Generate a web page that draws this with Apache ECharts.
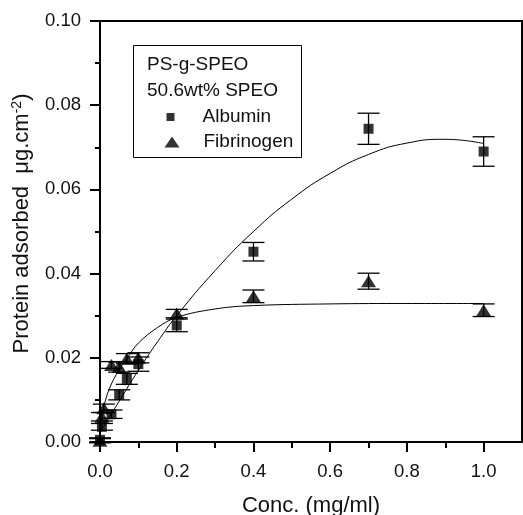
<!DOCTYPE html>
<html>
<head>
<meta charset="utf-8">
<script src="https://cdn.jsdelivr.net/npm/echarts@6/dist/echarts.min.js"></script>
<style>
html,body{margin:0;padding:0;background:#fff;}
#chart{width:523px;height:515px;}
</style>
</head>
<body>
<div id="chart"></div>
<script>
// ---- data ----
const albuminX   = [0, 0.005, 0.03, 0.05, 0.07, 0.1, 0.2, 0.4, 0.7, 1.0];
const albuminY   = [0.0005, 0.0036, 0.0066, 0.0112, 0.0150, 0.0185, 0.0277, 0.0452, 0.0744, 0.0690];
const albuminErr = [0.0005, 0.0008, 0.0010, 0.0012, 0.0013, 0.0017, 0.0015, 0.0022, 0.0037, 0.0035];

const fibX   = [0, 0.005, 0.01, 0.03, 0.05, 0.07, 0.1, 0.2, 0.4, 0.7, 1.0];
const fibY   = [0.0003, 0.0060, 0.0080, 0.0183, 0.0178, 0.0198, 0.0200, 0.0305, 0.0346, 0.0382, 0.0313];
const fibErr = [0.0005, 0.0010, 0.0010, 0.0008, 0.0012, 0.0012, 0.0012, 0.0010, 0.0015, 0.0019, 0.0015];

// fitted curves
const albuminFitX = [0, 0.05, 0.1, 0.15, 0.2, 0.3, 0.4, 0.5, 0.6, 0.7, 0.8, 0.9, 1.0];
const albuminFitY = [0.0022, 0.0097, 0.0170, 0.0238, 0.0300, 0.0407, 0.0500, 0.0577, 0.0638, 0.0683, 0.0710, 0.0719, 0.0709];
const fibFitX = [0, 0.01, 0.025, 0.05, 0.075, 0.1, 0.15, 0.2, 0.3, 0.4, 0.6, 0.8, 1.0];
const fibFitY = [0.0050, 0.0085, 0.0128, 0.0172, 0.0205, 0.0235, 0.0272, 0.0296, 0.0316, 0.0324, 0.0328, 0.0329, 0.0329];

const xMajorTicks = [0, 0.2, 0.4, 0.6, 0.8, 1.0];
const xMinorTicks = [0.1, 0.3, 0.5, 0.7, 0.9];
const legendTitle = 'PS-g-SPEO\n50.6wt% SPEO';

// ---- chart ----
const FONT = 'Liberation Sans, Arial, sans-serif';
const zip = (xs, ys) => xs.map((x, i) => [x, ys[i]]);
const zip3 = (xs, ys, es) => xs.map((x, i) => [x, ys[i], es[i]]);

function errorBars(name, data) {
  return {
    type: 'custom', name: name, data: data, z: 3, clip: false, silent: true,
    renderItem: function (params, api) {
      const x = api.value(0), y = api.value(1), e = api.value(2);
      const hi = api.coord([x, y + e]);
      const lo = api.coord([x, y - e]);
      const hw = 11;
      const style = { stroke: '#000', lineWidth: 1.3 };
      return {
        type: 'group',
        children: [
          { type: 'line', shape: { x1: hi[0], y1: hi[1], x2: lo[0], y2: lo[1] }, style: style },
          { type: 'line', shape: { x1: hi[0] - hw, y1: hi[1], x2: hi[0] + hw, y2: hi[1] }, style: style },
          { type: 'line', shape: { x1: lo[0] - hw, y1: lo[1], x2: lo[0] + hw, y2: lo[1] }, style: style }
        ]
      };
    }
  };
}

const chart = echarts.init(document.getElementById('chart'), null, { renderer: 'canvas' });
chart.setOption({
  backgroundColor: '#fff',
  animation: false,
  textStyle: { fontFamily: FONT },
  grid: {
    left: 100, top: 21, width: 422, height: 421, containLabel: false, outerBoundsMode: 'none',
    show: true, borderColor: '#000', borderWidth: 2, backgroundColor: 'transparent'
  },
  title: {
    text: legendTitle, left: 147, top: 52, padding: 0,
    textStyle: { fontFamily: FONT, fontSize: 19, fontWeight: 'normal', color: '#111', lineHeight: 26 }
  },
  legend: [
    {
      data: [{ name: 'Albumin', icon: 'rect' }], left: 166.5, top: 107, padding: 0, orient: 'vertical',
      itemWidth: 8, itemHeight: 8, selectedMode: false,
      textStyle: { fontFamily: FONT, fontSize: 19, color: '#111', lineHeight: 20, padding: [0, 0, 0, 23] }
    },
    {
      data: [{ name: 'Fibrinogen', icon: 'triangle' }], left: 164.5, top: 132, padding: 0, orient: 'vertical',
      itemWidth: 15, itemHeight: 11, selectedMode: false,
      textStyle: { fontFamily: FONT, fontSize: 19, color: '#111', lineHeight: 20, padding: [0, 0, 0, 19] }
    }
  ],
  graphic: [
    { type: 'rect', shape: { x: 133.5, y: 45.5, width: 168, height: 112 }, style: { fill: 'none', stroke: '#000', lineWidth: 1 }, z: 10 }
  ],
  xAxis: [
    {
      type: 'value', min: 0, max: 1.1, interval: 0.1,
      name: 'Conc. (mg/ml)', nameLocation: 'middle', nameGap: 53,
      nameTextStyle: { fontFamily: FONT, fontSize: 22, color: '#111' },
      axisLine: { show: true, onZero: false, lineStyle: { color: '#000', width: 2 } },
      axisTick: { show: true, length: 10, lineStyle: { color: '#000', width: 2 }, customValues: xMajorTicks },
      axisLabel: { show: true, margin: 20, fontFamily: FONT, fontSize: 18.5, color: '#111', customValues: xMajorTicks, formatter: v => v.toFixed(1) },
      splitLine: { show: false }
    },
    {
      type: 'value', min: 0, max: 1.1, interval: 0.1, position: 'bottom',
      axisLine: { show: false },
      axisTick: { show: true, length: 6, lineStyle: { color: '#000', width: 2 }, customValues: xMinorTicks },
      axisLabel: { show: false },
      splitLine: { show: false }
    }
  ],
  yAxis: {
    type: 'value', min: 0, max: 0.1, interval: 0.02,
    name: '{n|Protein adsorbed  μg.cm}{s|-2}{n|)}', nameLocation: 'middle', nameGap: 66,
    nameTextStyle: {
      fontFamily: FONT, fontSize: 22, color: '#111', padding: [0, 0, 0, 16],
      rich: {
        n: { fontFamily: FONT, fontSize: 22, color: '#111' },
        s: { fontFamily: FONT, fontSize: 14, color: '#111', verticalAlign: 'top', padding: [0, 0, 10, 0] }
      }
    },
    axisLine: { show: true, onZero: false, lineStyle: { color: '#000', width: 2 } },
    axisTick: { show: true, length: 10, lineStyle: { color: '#000', width: 2 } },
    minorTick: { show: true, splitNumber: 2, length: 5, lineStyle: { color: '#000', width: 2 } },
    axisLabel: { margin: 19, fontFamily: FONT, fontSize: 18.5, color: '#111', formatter: v => v.toFixed(2) },
    splitLine: { show: false }
  },
  series: [
    {
      name: 'AlbuminFit', type: 'line', data: zip(albuminFitX, albuminFitY), smooth: 0.5,
      showSymbol: false, symbol: 'none', lineStyle: { color: '#000', width: 1 }, z: 2, silent: true
    },
    {
      name: 'FibFit', type: 'line', data: zip(fibFitX, fibFitY), smooth: 0.4,
      showSymbol: false, symbol: 'none', lineStyle: { color: '#000', width: 1 }, z: 2, silent: true
    },
    errorBars('AlbuminErr', zip3(albuminX, albuminY, albuminErr)),
    errorBars('FibErr', zip3(fibX, fibY, fibErr)),
    {
      name: 'Albumin', type: 'scatter', data: zip(albuminX, albuminY), symbol: 'rect', symbolSize: 10,
      itemStyle: { color: '#000' }, clip: false, z: 4
    },
    {
      name: 'Fibrinogen', type: 'scatter', data: zip(fibX, fibY), symbol: 'triangle', symbolSize: [15, 12],
      itemStyle: { color: '#000' }, clip: false, z: 4
    }
  ]
});
</script>
</body>
</html>
